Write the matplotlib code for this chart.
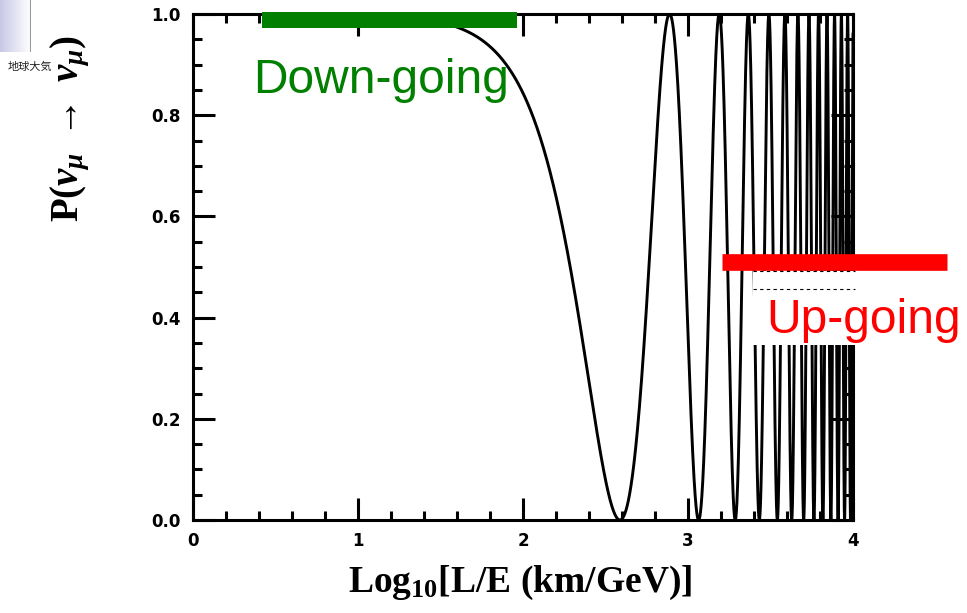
#numu_survival.py

import numpy as np
import matplotlib
matplotlib.use("Agg")
import matplotlib.pyplot as plt
from matplotlib.patches import Rectangle
from matplotlib.ticker import MultipleLocator

#%%

# oscillation parameters (first minimum near log10(L/E)=2.59)
dm2 = 3.2e-3          # eV^2
sin2_2theta = 1.0
log_le_range = [0, 4]

x_ticks = [0, 1, 2, 3, 4]
x_ticklabels = ['0', '1', '2', '3', '4']
y_ticks = [0, 0.2, 0.4, 0.6, 0.8, 1.0]
y_ticklabels = ['0.0', '0.2', '0.4', '0.6', '0.8', '1.0']

down_bar_x = [0.42, 1.965]
down_bar_y = 0.988
up_bar_x = [3.205, 4.57]
up_bar_y = 0.509

#%%

plt.rcParams['mathtext.fontset'] = 'custom'
plt.rcParams['mathtext.rm'] = 'Liberation Serif:bold'
plt.rcParams['mathtext.it'] = 'Liberation Serif:italic:bold'
plt.rcParams['mathtext.bf'] = 'Liberation Serif:bold'

fig = plt.figure(figsize=(9.67, 6.13), dpi=100)
W, H = 967, 613
ax = fig.add_axes([193/W, 1-520/H, 660/W, 506/H])

x = np.linspace(log_le_range[0], log_le_range[1], 40000)
p = 1 - sin2_2theta*np.sin(1.27*dm2*10**x)**2
ax.plot(x, p, color='black', lw=2.1)

ax.set_xlim(0, 4)
ax.set_ylim(0, 1)
ax.set_xticks(x_ticks)
ax.set_xticklabels(x_ticklabels, fontsize=12, fontweight='bold')
ax.set_yticks(y_ticks)
ax.set_yticklabels(y_ticklabels, fontsize=12, fontweight='bold')
ax.xaxis.set_minor_locator(MultipleLocator(0.2))
ax.yaxis.set_minor_locator(MultipleLocator(0.05))
ax.tick_params(which='both', direction='in', top=True, right=True, width=2.2)
ax.tick_params(which='major', length=16)
ax.tick_params(which='minor', length=6.5)
ax.tick_params(axis='x', pad=9)
ax.tick_params(axis='y', pad=9)
for s in ax.spines.values():
    s.set_linewidth(2.2)

fig.text(520/W, 1-583/H, r"Log$_{10}$[L/E (km/GeV)]", fontsize=27, family='Liberation Serif',
         fontweight='bold', ha='center', va='center')
fig.text(70/W, 1-128/H, r"P($\nu_\mu$ $\rightarrow$ $\nu_\mu$)", fontsize=28, family='Liberation Serif',
         fontweight='bold', rotation=90, ha='center', va='center')

# white box over the curve behind the label
fig.patches.append(Rectangle((753/W, 1-345/H), (W-753)/W, 74/H, transform=fig.transFigure,
                             facecolor='white', edgecolor='none', zorder=3))
fig.add_artist(plt.Line2D([753/W, 855/W], [1-271/H, 1-271/H], color='black', lw=0.8,
                          ls=(0, (3, 3)), zorder=4))
fig.add_artist(plt.Line2D([753/W, 855/W], [1-289/H, 1-289/H], color='black', lw=0.8,
                          ls=(0, (3, 3)), zorder=4))

ax.plot(down_bar_x, [down_bar_y, down_bar_y], color='#007f00', lw=11.5,
        solid_capstyle='butt', clip_on=False, zorder=5)
ax.plot(up_bar_x, [up_bar_y, up_bar_y], color='#ff0000', lw=12,
        solid_capstyle='butt', clip_on=False, zorder=5)

fig.text(253/W, 1-93/H, "Down-going", color='#007f00', fontsize=34.5, family='Liberation Sans',
         ha='left', va='baseline', zorder=6)
fig.text(766/W, 1-333/H, "Up-going", color='#ff0000', fontsize=34.5, family='Liberation Sans',
         ha='left', va='baseline', zorder=6)

# small icon in the corner
iax = fig.add_axes([0, 1-52/H, 31/W, 52/H])
grad = np.linspace(0, 1, 50).reshape(1, -1)*np.ones((30, 1))
iax.imshow(grad, cmap=matplotlib.colors.LinearSegmentedColormap.from_list('g', ['#c8c8e6', '#ffffff']),
           aspect='auto')
iax.axvline(49, color='#999999', lw=1.5)
iax.axis('off')
fig.text(8/W, 1-67/H, "地球大気", fontsize=8, family=['Noto Sans CJK JP', 'DejaVu Sans'],
         color='#222222', ha='left', va='center')

plt.savefig("out.png", dpi=100)
